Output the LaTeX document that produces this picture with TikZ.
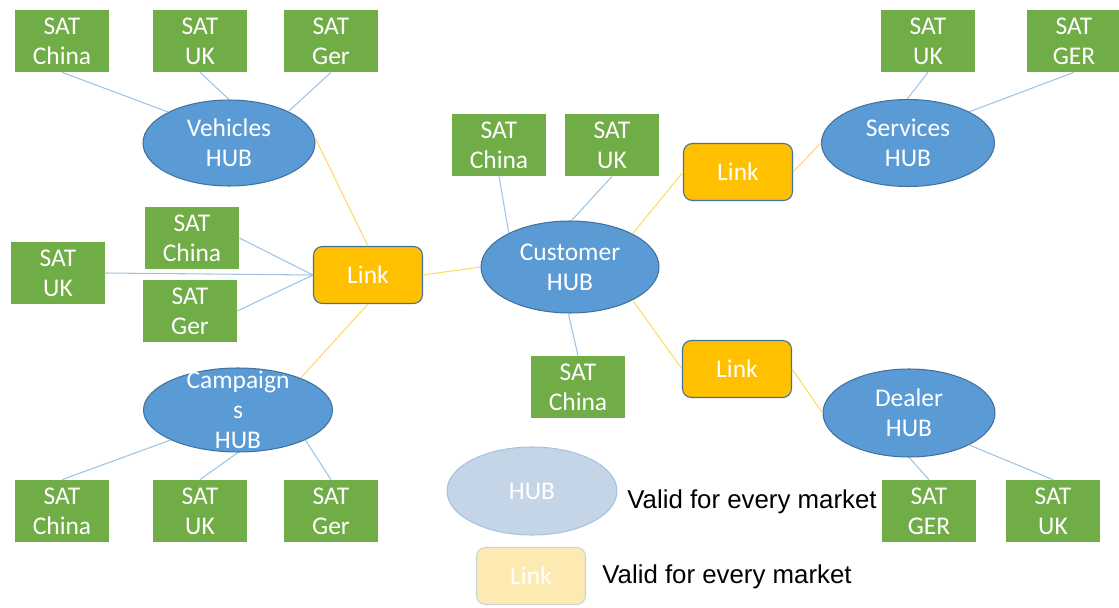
\documentclass[tikz,border=0pt]{standalone}
\usepackage{fontspec}
\setmainfont{Carlito}
\newfontfamily\arialfont{Liberation Sans}
\usetikzlibrary{shapes.geometric,positioning}

\definecolor{satgreen}{HTML}{70AD47}
\definecolor{hubblue}{HTML}{5B9BD5}
\definecolor{hubedge}{HTML}{41719C}
\definecolor{linkorange}{HTML}{FFC000}
\definecolor{satline}{HTML}{9DC3E6}
\definecolor{linkline}{HTML}{FFD966}
\definecolor{legendhub}{HTML}{C4D5E7}
\definecolor{legendhubedge}{HTML}{A8C3DE}
\definecolor{legendlink}{HTML}{FDE9B2}
\definecolor{legendlinkedge}{HTML}{C9D3DD}

\tikzset{
  sat/.style={fill=satgreen, text=white, minimum width=1.88cm, minimum height=1.24cm,
    inner sep=0pt, align=center, font=\fontsize{14.5}{17}\selectfont},
  hub/.style={ellipse, fill=hubblue, draw=hubedge, line width=0.6pt, text=white,
    minimum width=3.44cm, minimum height=1.72cm, inner sep=0pt, align=center,
    font=\fontsize{14.5}{17}\selectfont},
  hubtext/.style={text=white, align=center, inner sep=0pt, font=\fontsize{14.5}{17}\selectfont},
  link/.style={rectangle, rounded corners=5pt, fill=linkorange, draw=hubedge, line width=0.6pt,
    text=white, minimum width=2.18cm, minimum height=1.14cm, inner sep=0pt,
    font=\fontsize{14.5}{17}\selectfont},
  legend/.style={anchor=west, inner sep=0pt, font=\arialfont\fontsize{14.7}{17}\selectfont},
  satedge/.style={draw=satline, line width=0.6pt},
  linkedge/.style={draw=linkline, line width=0.6pt}
}

\begin{document}
\begin{tikzpicture}[x=0.02cm, y=-0.02cm]
  \useasboundingbox (0,0) rectangle (1119,608);

  % hubs
  \node[hub] (vehicles) at (229,143) {Vehicles\\HUB};
  \node[hub, minimum width=3.78cm, minimum height=1.68cm] (campaigns) at (238,410) {};
  \node[hubtext] (campaignstext) at (campaigns) {Campaign\\s\\HUB};
  \node[hub, minimum width=3.56cm, minimum height=1.84cm] (customer) at (570,267) {Customer\\HUB};
  \node[hub, minimum width=3.46cm, minimum height=1.74cm] (services) at (908,143) {Services\\HUB};
  \node[hub, minimum width=3.44cm, minimum height=1.76cm] (dealer) at (909,413) {Dealer\\HUB};

  % links
  \node[link] (linkL) at (368,275) {Link};
  \node[link] (linkTR) at (738,172) {Link};
  \node[link] (linkBR) at (737,369) {Link};

  % satellites
  \node[sat] (vChina) at (62,41) {SAT\\China};
  \node[sat] (vUK) at (200,41) {SAT\\UK};
  \node[sat] (vGer) at (331,41) {SAT\\Ger};
  \node[sat] (lChina) at (192,238) {SAT\\China};
  \node[sat] (lUK) at (58,273) {SAT\\UK};
  \node[sat] (lGer) at (190,311) {SAT\\Ger};
  \node[sat] (cpChina) at (62,511) {SAT\\China};
  \node[sat] (cpUK) at (200,511) {SAT\\UK};
  \node[sat] (cpGer) at (331,511) {SAT\\Ger};
  \node[sat] (cuChina) at (499,145) {SAT\\China};
  \node[sat] (cuUK) at (612,145) {SAT\\UK};
  \node[sat] (cuChinaB) at (578,387) {SAT\\China};
  \node[sat] (sUK) at (928,41) {SAT\\UK};
  \node[sat] (sGER) at (1074,41) {SAT\\GER};
  \node[sat] (dGER) at (929,511) {SAT\\GER};
  \node[sat] (dUK) at (1053,511) {SAT\\UK};

  \path[satedge]
    (vChina.south) edge (vehicles.153)
    (vUK.south) edge (vehicles.north)
    (vGer.south) edge (vehicles.28)
    (lChina.east) edge (linkL.west)
    (lUK.east) edge (linkL.west)
    (lGer.east) edge (linkL.west)
    (cpChina.north) edge (campaigns.204)
    (cpUK.north) edge (campaigns.south)
    (cpGer.north) edge (campaigns.336)
    (cuChina.south) edge (customer.151)
    (cuUK.south) edge (customer.88)
    (cuChinaB.north) edge (customer.268)
    (sUK.south) edge (services.91)
    (sGER.south) edge (services.27)
    (dGER.north) edge (dealer.south)
    (dUK.north) edge (dealer.332)
  ;

  \path[linkedge]
    (vehicles.4) edge (linkL.north)
    (linkL.south) edge (campaigns.27)
    (linkL.east) edge (customer.west)
    (customer.28) edge (linkTR.west)
    (linkTR.east) edge (services.west)
    (customer.332) edge (linkBR.west)
    (linkBR.east) edge (dealer.west)
  ;

  % legend
  \node[hub, fill=legendhub, draw=legendhubedge, minimum width=3.4cm, minimum height=1.76cm] (legendHub) at (532,491) {HUB};
  \node[link, fill=legendlink, draw=legendlinkedge] (legendLink) at (531,576) {Link};
  \node[legend] (legendHubText) at (627,502) {Valid for every market};
  \node[legend] (legendLinkText) at (602,577) {Valid for every market};
\end{tikzpicture}
\end{document}
